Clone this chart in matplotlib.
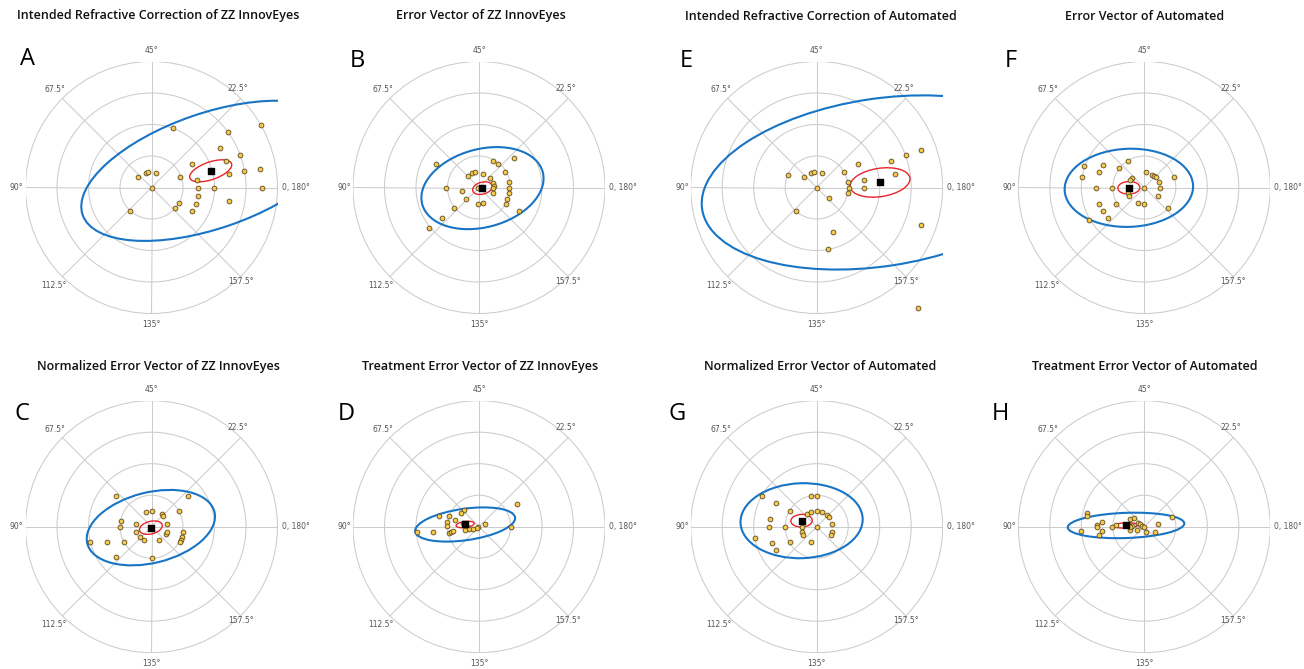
import numpy as np
import matplotlib
matplotlib.use("Agg")
import matplotlib.pyplot as plt
from matplotlib.patches import Ellipse, Circle

plt.rcParams['font.family'] = ['Open Sans', 'DejaVu Sans']

# 角度ラベル(倍角プロット: 0,180° が右, 45° が上)
axis_labels = ["0, 180°", "22.5°", "45°", "67.5°", "90°", "112.5°", "135°", "157.5°"]

# パネルのタイトルと記号
titles = ["Intended Refractive Correction of ZZ InnovEyes", "Error Vector of ZZ InnovEyes",
          "Intended Refractive Correction of Automated", "Error Vector of Automated",
          "Normalized Error Vector of ZZ InnovEyes", "Treatment Error Vector of ZZ InnovEyes",
          "Normalized Error Vector of Automated", "Treatment Error Vector of Automated"]
letters = ["A", "B", "E", "F", "C", "D", "G", "H"]

# データ点 (x, y) 単位は同心円1本分
a_x = [0.67, 2.42, 3.47, 2.16, 2.82, 1.28, 2.35, 2.95, 3.44, 2.46, 0.92, 1.46, -0.42, -0.19,
       -0.12, 0.15, 0.0, 1.99, 3.50, 1.48, 1.47, 0.86, 0.75, 1.40, 1.27, 2.46, -0.67]
a_y = [1.88, 1.77, 2.00, 1.25, 1.02, 0.75, 0.84, 0.51, 0.60, 0.42, 0.34, 0.24, 0.32, 0.47,
       0.49, 0.47, 0.0, 0.0, 0.0, 0.0, -0.27, -0.50, -0.65, -0.52, -0.75, -0.43, -0.76]

b_x = [1.12, 0.46, 0.61, -1.35, -0.36, -0.21, -0.13, 0.13, 0.36, 0.82, 0.95, 0.46, 0.48, 0.46,
       0.96, 0.96, -1.04, -0.54, -0.04, 0.46, 0.90, 0.85, -0.42, -0.04, 0.13, -0.79, 1.27, -1.19, -1.59]
b_y = [0.95, 0.85, 0.74, 0.74, 0.37, 0.46, 0.48, 0.44, 0.30, 0.48, 0.16, 0.13, 0.04, -0.03,
       -0.02, -0.19, -0.02, -0.11, -0.02, -0.19, -0.35, -0.51, -0.35, -0.51, -0.48, -0.65, -0.76, -0.97, -1.30]

e_x = [3.31, 2.84, 2.36, 1.30, 0.87, 2.49, 1.49, -0.92, -0.39, -0.18, -0.09, 0.17, 1.00, 1.02,
       1.51, 1.00, 0.0, 0.39, -0.66, 3.31, 0.51, 0.36, 3.23]
e_y = [1.20, 1.03, 0.85, 0.76, 0.50, 0.42, 0.24, 0.40, 0.32, 0.47, 0.49, 0.46, 0.16, -0.01,
       -0.01, -0.18, 0.0, -0.33, -0.76, -1.20, -1.40, -1.96, -3.81]

f_x = [-1.92, -1.32, -0.52, -0.79, -1.44, -1.99, -0.40, -0.46, 0.06, 0.23, 0.31, 0.37, 0.93, 0.46,
       0.49, 0.42, 0.0, -1.03, -1.53, -0.51, -0.48, -0.89, -1.44, -1.32, -1.16, -1.76, -0.20, -0.01, 0.74]
f_y = [0.67, 0.73, 0.84, 0.62, 0.50, 0.33, 0.30, 0.24, 0.48, 0.41, 0.37, 0.32, 0.33, 0.16,
       -0.03, -0.27, -0.03, -0.03, -0.03, -0.16, -0.27, -0.51, -0.52, -0.76, -0.97, -1.02, -0.49, -0.52, -0.66]

c_x = [-1.14, 1.16, -0.17, 0.0, 0.33, 0.38, 0.88, -0.98, -1.01, -0.50, 0.50, -0.48, -0.37, -0.24,
       0.25, 0.47, 0.50, 1.01, 0.97, 0.93, 0.89, -0.86, -1.41, -1.96, -1.14, 0.0]
c_y = [0.97, 0.97, 0.47, 0.51, 0.39, 0.34, 0.51, 0.18, 0.0, 0.10, 0.10, -0.16, -0.32, -0.43,
       -0.42, -0.24, -0.16, -0.18, -0.32, -0.42, -0.50, -0.49, -0.50, -0.48, -0.95, -1.00]

d_x = [1.21, -0.49, -0.57, -1.26, -0.96, -0.77, -1.01, -1.02, 0.20, -0.02, -0.05, -0.37, -0.32,
       -0.43, -0.18, 1.01, -1.98, -1.45, -0.94, -0.88, -0.82, -0.50]
d_y = [0.71, 0.53, 0.42, 0.33, 0.34, 0.21, 0.15, 0.02, 0.10, 0.0, -0.03, -0.02, -0.07,
       -0.11, -0.07, -0.01, -0.16, -0.17, -0.19, -0.17, -0.15, 0.13]

g_x = [-1.74, -0.17, 0.0, -1.30, -0.86, -0.30, -0.17, 0.0, 0.17, 0.34, 0.40, -1.48, -1.50,
       -1.00, -0.47, -0.47, -0.43, 0.0, 0.50, 0.49, 0.46, -1.96, -1.41, -0.86, -0.17, -1.30]
g_y = [0.98, 0.98, 0.98, 0.74, 0.50, 0.40, 0.46, 0.50, 0.46, 0.37, 0.32, 0.24, 0.0,
       0.0, 0.0, -0.17, -0.27, -0.02, 0.09, -0.18, -0.25, -0.35, -0.51, -0.50, -0.48, -0.75]

h_x = [-1.82, -1.81, 0.89, -0.46, -0.32, -1.35, -1.50, -1.51, -1.04, -0.91, -0.38, -0.19, -0.14,
       -0.06, -0.01, 0.42, -0.46, -0.23, -1.35, -2.01, -1.44, 0.04, 0.34, -0.52, -0.44]
h_y = [0.42, 0.33, 0.32, 0.24, 0.29, 0.16, 0.05, -0.02, -0.02, 0.05, 0.02, 0.13, 0.09,
       0.03, -0.02, 0.07, -0.11, -0.09, -0.13, -0.15, -0.27, -0.16, -0.16, 0.04, 0.0]

# 平均 (黒い四角)
mean_x = [1.88, 0.11, 2.01, -0.49, -0.02, -0.44, -0.48, -0.58]
mean_y = [0.53, -0.02, 0.16, -0.01, -0.03, 0.07, 0.19, 0.04]

# 平均の95%信頼楕円 (赤) : 長半径, 短半径, 角度
ci_a = [0.70, 0.32, 0.96, 0.35, 0.37, 0.29, 0.34, 0.37]
ci_b = [0.28, 0.19, 0.45, 0.20, 0.20, 0.095, 0.20, 0.085]
# 95%予測楕円 (青)
pi_a = [4.30, 1.98, 5.71, 2.04, 2.08, 1.60, 1.94, 1.85]
pi_b = [1.83, 1.24, 2.66, 1.24, 1.12, 0.50, 1.19, 0.40]
ell_ang = [19, 15, 8.6, 2, 14, 8, 2, 2]

pts_x = [a_x, b_x, e_x, f_x, c_x, d_x, g_x, h_x]
pts_y = [a_y, b_y, e_y, f_y, c_y, d_y, g_y, h_y]

# レイアウト (ピクセル)
W, H = 1304, 669
cx_px = [151.5, 479, 816.7, 1144.3]
cy_px = [187.5, 526.7]
rad_px = 126
title_x = [158.5, 480.5, 820.6, 1144.6]
title_y = [16, 366.7]
letter_pos = [(20, 47), (350, 49), (680, 49), (1005, 49), (15, 402), (338, 402), (668, 402), (992, 402)]

R = 4
fig = plt.figure(figsize=(W / 100, H / 100), dpi=100)

for i in range(8):
    col, row = i % 4, i // 4
    cx, cy = cx_px[col], cy_px[row]
    ax = fig.add_axes([(cx - rad_px) / W, 1 - (cy + rad_px) / H, 2 * rad_px / W, 2 * rad_px / H])
    ax.set_xlim(-R, R)
    ax.set_ylim(-R, R)
    ax.set_aspect('equal')
    ax.axis('off')

    # 極座標グリッド
    for r in range(1, R + 1):
        ax.add_patch(Circle((0, 0), r, fill=False, ec='#cccccc', lw=0.75, zorder=1))
    for k in range(8):
        t = np.deg2rad(45 * k)
        ax.plot([0, R * np.cos(t)], [0, R * np.sin(t)], color='#cccccc', lw=0.75, zorder=1)

    # 角度ラベル
    lab_pos = [(4.13, 0, 'left'), (2.75, 3.15, 'center'), (0, 4.35, 'center'), (-3.05, 3.1, 'center'),
               (-4.28, 0, 'center'), (-3.1, -3.12, 'center'), (0, -4.35, 'center'), (2.83, -2.98, 'center')]
    for lab, (lx, ly, ha) in zip(axis_labels, lab_pos):
        ax.text(lx, ly, lab, ha=ha, va='center', fontsize=5.5, color='#555555',
                family=['DejaVu Sans'], clip_on=False)

    ax.add_patch(Ellipse((mean_x[i], mean_y[i]), 2 * pi_a[i], 2 * pi_b[i], angle=ell_ang[i],
                         fill=False, ec='#1874c4', lw=1.5, zorder=3))
    ax.add_patch(Ellipse((mean_x[i], mean_y[i]), 2 * ci_a[i], 2 * ci_b[i], angle=ell_ang[i],
                         fill=False, ec='#e8242a', lw=1.0, zorder=4))
    ax.scatter(pts_x[i], pts_y[i], s=12, c='#f6c84c', edgecolors='#5b4a22', linewidths=0.6,
               zorder=5, clip_on=False)
    ax.scatter([mean_x[i]], [mean_y[i]], s=20, marker='s', c='black', zorder=6)

    fig.text(title_x[col] / W, 1 - title_y[row] / H, titles[i], ha='center', va='center',
             fontsize=9, fontweight='semibold', color='#111111')
    lx, ly = letter_pos[i]
    fig.text(lx / W, 1 - ly / H, letters[i], ha='left', va='top', fontsize=17, color='black')

fig.savefig("out.png", dpi=100)
